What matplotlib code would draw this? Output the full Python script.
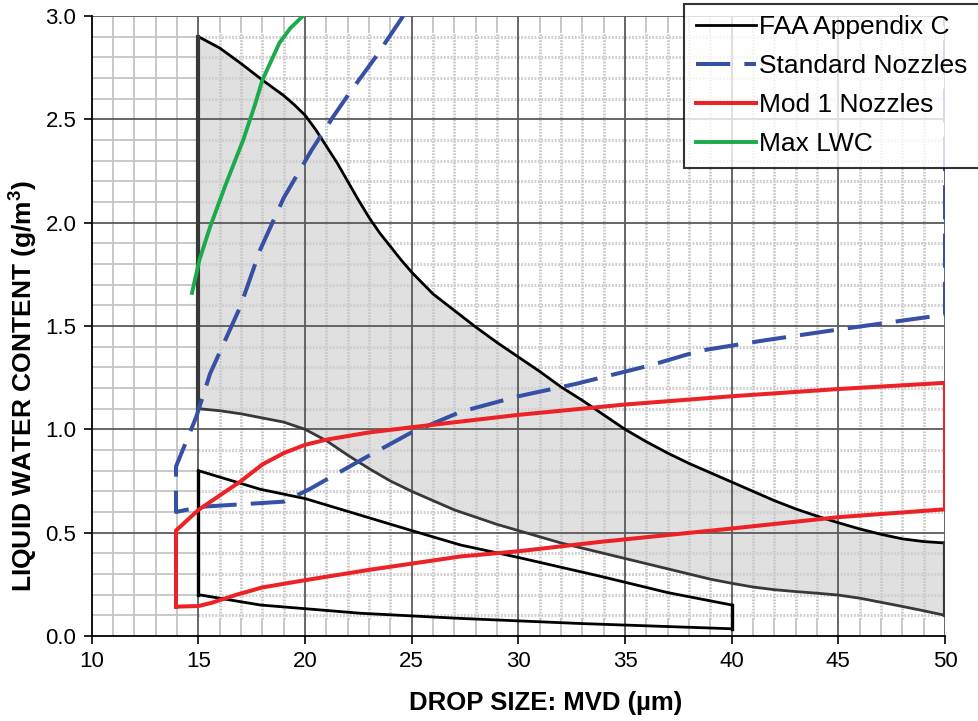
import numpy as np
import matplotlib
matplotlib.use("Agg")
import matplotlib.pyplot as plt
from matplotlib.patches import Rectangle

plt.rcParams['font.family'] = ['Liberation Sans', 'DejaVu Sans']
plt.rcParams['mathtext.fontset'] = 'custom'
plt.rcParams['mathtext.bf'] = 'Liberation Sans:bold'
plt.rcParams['mathtext.rm'] = 'Liberation Sans'

# ---- data ----
# FAA Appendix C continuous-maximum envelope (shaded)
faa_upper_x = [15, 16, 17, 18, 19, 19.5, 20, 20.5, 21, 21.5, 22, 22.5, 23, 23.5, 24, 24.5, 25, 26, 27, 28, 29,
               30, 31, 32, 33, 34, 35, 36, 37, 38, 39, 40, 41, 42, 43, 44, 45, 46, 47, 48, 49, 50]
faa_upper_y = [2.90, 2.845, 2.77, 2.69, 2.615, 2.57, 2.52, 2.45, 2.37, 2.29, 2.20, 2.11, 2.025, 1.95, 1.885, 1.82, 1.76,
               1.655, 1.575, 1.495, 1.42, 1.35, 1.28, 1.205, 1.14, 1.07, 1.00, 0.94, 0.885, 0.835, 0.79, 0.745,
               0.70, 0.655, 0.615, 0.58, 0.548, 0.518, 0.492, 0.47, 0.457, 0.45]
faa_lower_x = [15, 16, 17, 18, 19, 20, 21, 22, 23, 24, 25, 26, 27, 28, 29, 30, 31, 32, 33, 34, 35,
               36, 37, 38, 39, 40, 41, 42, 43, 44, 45, 46, 47, 48, 49, 50]
faa_lower_y = [1.10, 1.09, 1.075, 1.055, 1.035, 1.00, 0.945, 0.875, 0.81, 0.75, 0.70, 0.655, 0.61, 0.575, 0.54,
               0.51, 0.48, 0.45, 0.425, 0.40, 0.375, 0.35, 0.325, 0.30, 0.275, 0.255, 0.237, 0.224, 0.215, 0.207,
               0.198, 0.183, 0.163, 0.143, 0.122, 0.10]

# FAA Appendix C second envelope (outline only)
faa2_top_x = [15, 17.9, 20, 25, 27.3, 30, 33.8, 37, 40]
faa2_top_y = [0.80, 0.71, 0.665, 0.51, 0.44, 0.38, 0.29, 0.21, 0.15]
faa2_bot_x = [15, 17.9, 22.6, 27.3, 33, 40]
faa2_bot_y = [0.20, 0.15, 0.11, 0.085, 0.06, 0.035]

# Standard nozzles envelope
std_left_x = [24.6, 23.3, 22.1, 21.3, 20.3, 19.0, 17.9, 16.95, 15.55, 14.9, 13.95]
std_left_y = [3.0, 2.80, 2.63, 2.51, 2.35, 2.12, 1.87, 1.59, 1.27, 1.06, 0.82]
std_bot_x = [13.95, 15.1, 19.0, 20.2, 22.6, 24.9, 27.3, 30, 32.7, 36.2, 38.5, 41.5, 44.8, 50]
std_bot_y = [0.60, 0.625, 0.65, 0.71, 0.85, 0.98, 1.085, 1.16, 1.22, 1.31, 1.38, 1.43, 1.48, 1.555]
std_right_top = 3.0

# Mod 1 nozzles envelope
mod_top_x = [13.95, 15.0, 16.0, 17.0, 18.0, 19.0, 20.0, 21.0, 23.0, 25.0, 30.0, 35.0, 40.0, 45.0, 50.0]
mod_top_y = [0.51, 0.61, 0.68, 0.75, 0.83, 0.885, 0.925, 0.95, 0.985, 1.01, 1.07, 1.12, 1.16, 1.195, 1.225]
mod_bot_x = [13.95, 15.0, 15.6, 16.8, 18.0, 20.0, 23.0, 27.3, 30, 33.8, 40, 45, 50]
mod_bot_y = [0.142, 0.145, 0.16, 0.20, 0.235, 0.27, 0.32, 0.385, 0.41, 0.455, 0.52, 0.575, 0.613]

# Max LWC
max_x = [14.7, 15.05, 15.55, 16.3, 17.1, 17.65, 18.0, 18.8, 19.3, 19.9]
max_y = [1.66, 1.82, 1.98, 2.19, 2.40, 2.57, 2.69, 2.87, 2.94, 3.0]

x_ticks = [10, 15, 20, 25, 30, 35, 40, 45, 50]
y_ticks = [0.0, 0.5, 1.0, 1.5, 2.0, 2.5, 3.0]

BLACK = '#000000'
BLUE = '#3650a5'
RED = '#ec2227'
GREEN = '#1daa4b'

fig = plt.figure(figsize=(9.79, 7.21), dpi=100)
ax = fig.add_axes([0.0937, 0.1179, 0.8716, 0.8599])
ax.set_xlim(10, 50)
ax.set_ylim(0, 3)

# ---- grid ----
minor_x = [v for v in range(11, 50) if v % 5]
minor_y = [round(v * 0.1, 1) for v in range(1, 30) if v % 5]
ax.vlines(minor_x, 0, 3, colors='#c4c4c4', lw=1.3, zorder=0.1)
ax.hlines(minor_y, 10, 50, colors='#c4c4c4', lw=1.3, zorder=0.1)
ax.add_patch(Rectangle((15, 0.08), 35, 2.84, facecolor='white', edgecolor='none', zorder=0.2))

# shaded FAA envelope
poly_x = faa_upper_x + faa_lower_x[::-1]
poly_y = faa_upper_y + faa_lower_y[::-1]
ax.fill(poly_x, poly_y, facecolor='#e0e0e0', edgecolor='none', zorder=0.25)

ax.vlines(minor_x[4:], 0.08, 2.92, colors='#c8c8c8', lw=2.0, linestyles=(0, (0.6, 0.5)), zorder=0.3)
ax.hlines(minor_y, 15, 50, colors='#d0d0d0', lw=2.2, linestyles=(0, (0.6, 0.5)), zorder=0.3)
ax.vlines(x_ticks[1:], 0, 3, colors='#5a5a5a', lw=1.3, zorder=0.4)
ax.hlines(y_ticks[1:], 10, 50, colors='#5a5a5a', lw=1.3, zorder=0.4)

# ---- data lines ----
ax.plot(faa_upper_x, faa_upper_y, color=BLACK, lw=2.0, zorder=3, label='FAA Appendix C')
ax.plot(faa_lower_x, faa_lower_y, color='#383838', lw=2.0, zorder=3)
ax.plot([faa_upper_x[0], faa_lower_x[0]], [faa_upper_y[0], faa_lower_y[0]], color='#383838', lw=3.0, zorder=3)
ax.plot([faa_upper_x[-1], faa_lower_x[-1]], [faa_upper_y[-1], faa_lower_y[-1]], color='#383838', lw=3.0, zorder=3)

ax.plot(faa2_top_x, faa2_top_y, color=BLACK, lw=2.0, zorder=3)
ax.plot(faa2_bot_x, faa2_bot_y, color=BLACK, lw=2.0, zorder=3)
ax.plot([faa2_top_x[0], faa2_bot_x[0]], [faa2_top_y[0], faa2_bot_y[0]], color=BLACK, lw=2.4, zorder=3)
ax.plot([faa2_top_x[-1], faa2_bot_x[-1]], [faa2_top_y[-1], faa2_bot_y[-1]], color=BLACK, lw=2.4, zorder=3)

std_x = std_left_x + std_bot_x + [std_bot_x[-1]]
std_y = std_left_y + std_bot_y + [std_right_top]
ax.plot(std_x, std_y, color=BLUE, lw=2.9, dashes=(8.5, 3.5), zorder=4,
        label='Standard Nozzles', solid_joinstyle='miter')

mod_x = mod_bot_x + mod_top_x[::-1] + [mod_bot_x[0]]
mod_y = mod_bot_y + mod_top_y[::-1] + [mod_bot_y[0]]
ax.plot(mod_x, mod_y, color=RED, lw=2.9, zorder=5, label='Mod 1 Nozzles', solid_joinstyle='miter')

ax.plot(max_x, max_y, color=GREEN, lw=2.8, zorder=5, label='Max LWC')

# ---- axes styling ----
ax.set_xticks(x_ticks)
ax.set_yticks(y_ticks)
ax.set_yticklabels([f'{v:.1f}' for v in y_ticks])
ax.tick_params(direction='out', length=6, width=1.2, labelsize=16, pad=5, colors=BLACK)
for side in ['top', 'right']:
    ax.spines[side].set_visible(False)
for side in ['left', 'bottom']:
    ax.spines[side].set_linewidth(1.3)

ax.set_xlabel('DROP SIZE: MVD (µm)', fontsize=18.5, fontweight='bold', va='top')
ax.xaxis.set_label_coords(0.532, -0.088)
ax.set_ylabel('LIQUID WATER CONTENT (g/m$^\\mathbf{3}$)', fontsize=19, fontweight='bold')
ax.yaxis.set_label_coords(-0.062, 0.403)

leg = ax.legend(loc='upper right', bbox_to_anchor=(1.0, 0.995), bbox_transform=fig.transFigure,
                fontsize=19, frameon=True, fancybox=False, edgecolor=BLACK,
                handlelength=2.25, handletextpad=0.12, labelspacing=0.56, borderpad=0.45,
                borderaxespad=0.0)
leg.get_frame().set_linewidth(1.5)
leg.set_zorder(10)

fig.savefig('out.png', dpi=100)
